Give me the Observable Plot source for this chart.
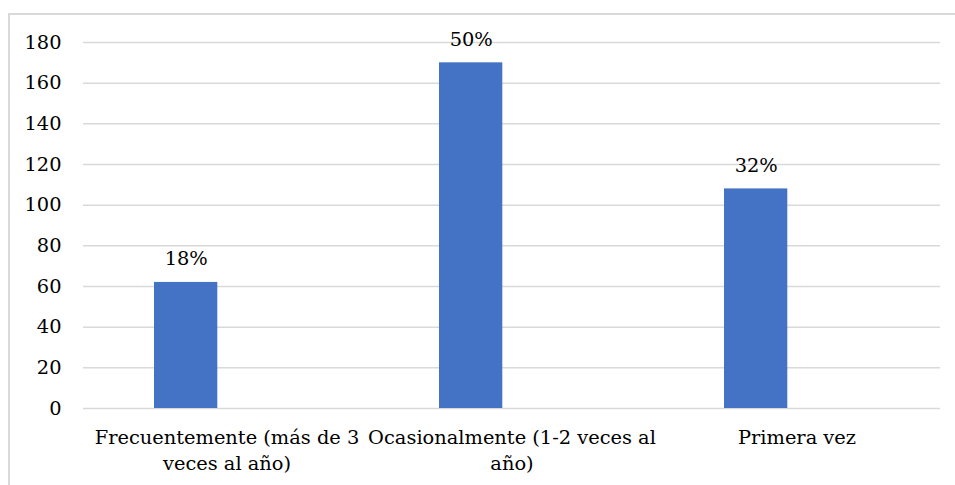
<!DOCTYPE html>
<html>
<head>
<meta charset="utf-8">
<script src="https://cdn.jsdelivr.net/npm/d3@7"></script>
<script src="https://cdn.jsdelivr.net/npm/@observablehq/plot@0.6"></script>
<style>
  html, body { margin: 0; padding: 0; background: #fff; }
  #wrap { position: relative; width: 955px; height: 485px; overflow: hidden; }
  #frame { position: absolute; left: 8px; top: 13px; width: 960px; height: 490px; border: 2px solid #d9d9d9; box-sizing: border-box; }
  #chart { position: absolute; left: 0; top: 0; }
</style>
</head>
<body>
<div id="wrap"><div id="frame"></div><div id="chart"></div></div>
<script>
const categories = ["Frecuentemente (más de 3 veces al año)", "Ocasionalmente (1-2 veces al año)", "Primera vez"];
const counts = [62, 170, 108];
const percents = ["18%", "50%", "32%"];
const tickLabels = ["Frecuentemente (más de 3\nveces al año)", "Ocasionalmente (1-2 veces al\naño)", "Primera vez"];
const yTicks = [0, 20, 40, 60, 80, 100, 120, 140, 160, 180];

const data = categories.map((c, i) => ({cat: c, count: counts[i], pct: percents[i], label: tickLabels[i]}));
const labelOf = new Map(data.map(d => [d.cat, d.label]));
const serif = "DejaVu Serif";
const fs = 19.4;

const chart = Plot.plot({
  width: 955,
  height: 485,
  marginLeft: 83,
  marginRight: 15,
  marginTop: 42,
  marginBottom: 77,
  style: {background: "transparent", fontFamily: serif, fontSize: fs + "px", color: "#000"},
  x: {domain: categories, padding: 0, label: null},
  y: {domain: [0, 180], label: null},
  marks: [
    Plot.ruleY(yTicks, {stroke: "#d9d9d9", strokeWidth: 1.5}),
    Plot.barY(data, {x: "cat", y: "count", fill: "#4472c4", insetLeft: 70, insetRight: 151.7}),
    Plot.text(data, {x: "cat", y: "count", text: "pct", dx: -40.8, dy: -17, lineAnchor: "bottom", fontSize: fs, fontFamily: serif, fill: "#000"}),
    Plot.axisY({ticks: yTicks, tickSize: 0, tickPadding: 22, label: null, fontSize: fs, fontFamily: serif}),
    Plot.axisX({tickSize: 0, tickPadding: 17, label: null, tickFormat: d => labelOf.get(d), lineHeight: 1.35, fontSize: fs, fontFamily: serif})
  ]
});
document.getElementById("chart").appendChild(chart);
</script>
</body>
</html>
